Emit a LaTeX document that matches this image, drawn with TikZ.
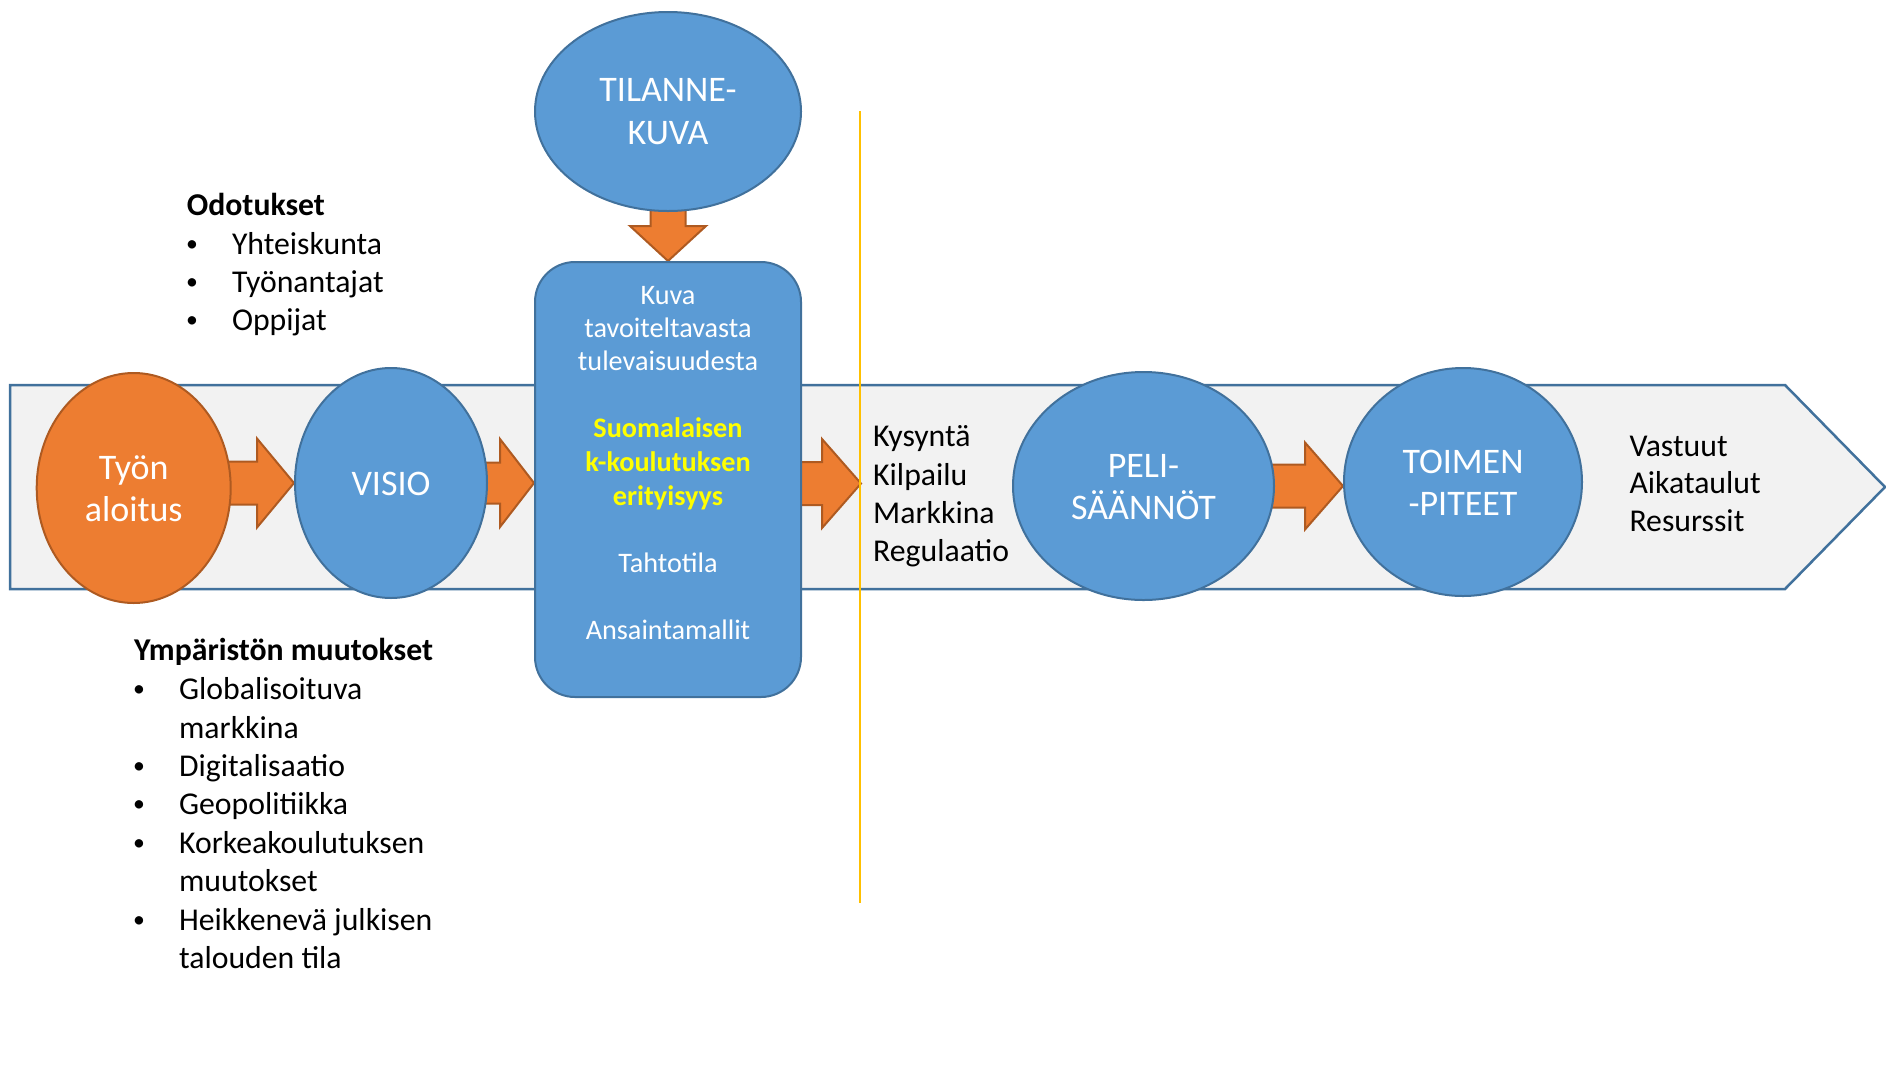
\documentclass[tikz,border=0pt]{standalone}
\usepackage{fontspec}
\setmainfont{Carlito}
\usetikzlibrary{shapes.geometric,calc}
\definecolor{bfill}{HTML}{5B9BD5}
\definecolor{bline}{HTML}{41719C}
\definecolor{ofill}{HTML}{ED7D31}
\definecolor{oline}{HTML}{AE5A21}
\definecolor{gfill}{HTML}{F2F2F2}
\definecolor{yel}{HTML}{FFFF00}
\definecolor{gold}{HTML}{FFC000}
\pgfdeclarelayer{bg}
\pgfsetlayers{bg,main}
\begin{document}
\begin{tikzpicture}[x=0.4pt,y=-0.4pt,
  ell/.style={ellipse, draw=bline, fill=bfill, line width=0.8pt, inner sep=0pt},
  oell/.style={ellipse, draw=oline, fill=ofill, line width=0.8pt, inner sep=0pt},
  rbox/.style={rectangle, rounded corners=16pt, draw=bline, fill=bfill, line width=0.8pt, inner sep=0pt},
  barrow/.style={draw=oline, fill=ofill, line width=0.8pt, line join=miter},
  bigarrow/.style={draw=bline, fill=gfill, line width=1pt},
  etxt/.style={font=\fontsize{14.4}{17}\selectfont, text=white, anchor=base, inner sep=0pt},
  rtxt/.style={font=\fontsize{11.3}{13.3}\selectfont, text=white, anchor=base, inner sep=0pt},
  ytxt/.style={font=\fontsize{11.3}{13.3}\selectfont\bfseries, text=yel, anchor=base, inner sep=0pt},
  btxt/.style={font=\fontsize{12.7}{15.3}\selectfont, anchor=base west, inner sep=0pt},
  htxt/.style={font=\fontsize{12.7}{15.3}\selectfont\bfseries, anchor=base west, inner sep=0pt},
  bul/.style={font=\fontsize{9.5}{12}\selectfont, anchor=base, inner sep=0pt}]
\useasboundingbox (0,0) rectangle (1886,1080);

% nodes
\node[oell, minimum width=77.6pt, minimum height=92pt] (tyon) at (133.7,488) {};
\node[ell, minimum width=76.8pt, minimum height=92pt] (visio) at (391,483) {};
\node[ell, minimum width=106.4pt, minimum height=79.6pt] (tilanne) at (668,111.5) {};
\node[rbox, minimum width=106.4pt, minimum height=174pt] (rect) at (668,479.5) {};
\node[ell, minimum width=104.4pt, minimum height=91.2pt] (peli) at (1143.5,486) {};
\node[ell, minimum width=95.2pt, minimum height=91.2pt] (toimen) at (1463,482) {};
\coordinate (ktip) at (861,483.5);

% background: big arrow and block arrows
\begin{pgfonlayer}{bg}
\draw[bigarrow] (10,385) -- (1785,385) -- (1885,487) -- (1785,589) -- (10,589) -- cycle;
\draw[barrow] let \p1=(tyon.east), \p2=(visio.west) in
  (\x1-3pt,\y2+8.6pt) -- (\x2-14.8pt,\y2+8.6pt) -- (\x2-14.8pt,\y2+17.8pt) -- (\x2,\y2)
  -- (\x2-14.8pt,\y2-17.8pt) -- (\x2-14.8pt,\y2-8.6pt) -- (\x1-3pt,\y2-8.6pt) -- cycle;
\draw[barrow] let \p1=(visio.east), \p2=(rect.west |- visio.east) in
  (\x1-3pt,\y2+8.2pt) -- (\x2-13.6pt,\y2+8.2pt) -- (\x2-13.6pt,\y2+17.6pt) -- (\x2,\y2)
  -- (\x2-13.6pt,\y2-17.6pt) -- (\x2-13.6pt,\y2-8.2pt) -- (\x1-3pt,\y2-8.2pt) -- cycle;
\draw[barrow] let \p1=(rect.east), \p2=(ktip) in
  (\x1-3pt,\y2+8.6pt) -- (\x2-15.6pt,\y2+8.6pt) -- (\x2-15.6pt,\y2+17.8pt) -- (\x2,\y2)
  -- (\x2-15.6pt,\y2-17.8pt) -- (\x2-15.6pt,\y2-8.6pt) -- (\x1-3pt,\y2-8.6pt) -- cycle;
\draw[barrow] let \p1=(peli.east), \p2=(toimen.west |- peli.east) in
  (\x1-3pt,\y2+8.6pt) -- (\x2-15.2pt,\y2+8.6pt) -- (\x2-15.2pt,\y2+17.4pt) -- (\x2,\y2)
  -- (\x2-15.2pt,\y2-17.4pt) -- (\x2-15.2pt,\y2-8.6pt) -- (\x1-3pt,\y2-8.6pt) -- cycle;
\draw[barrow] let \p1=(tilanne.south), \p2=(rect.north) in
  (\x2-7pt,\y1+3pt) -- (\x2-7pt,\y2+14pt) -- (\x2-15.2pt,\y2+14pt) -- (\x2,\y2)
  -- (\x2+15.2pt,\y2+14pt) -- (\x2+7pt,\y2+14pt) -- (\x2+7pt,\y1+3pt) -- cycle;
\end{pgfonlayer}

% yellow divider
\coordinate (ltop) at (860,111);
\coordinate (lbot) at (860,903);
\draw[gold, line width=0.7pt] (ltop) -- (lbot);

% ellipse labels
\node[etxt] (t1) at (133.7,479) {Työn};
\node[etxt] (t2) at (133.7,521.7) {aloitus};
\node[etxt] (v1) at (391,495) {VISIO};
\node[etxt] (k1) at (668,101.6) {TILANNE-};
\node[etxt] (k2) at (668,144) {KUVA};
\node[etxt] (p1) at (1143.5,477) {PELI-};
\node[etxt] (p2) at (1143.5,519) {SÄÄNNÖT};
\node[etxt] (m1) at (1463,473.5) {TOIMEN};
\node[etxt] (m2) at (1463,515.5) {-PITEET};

% rect labels
\node[rtxt] (r1) at (668,304) {Kuva};
\node[rtxt] (r2) at (668,337) {tavoiteltavasta};
\node[rtxt] (r3) at (668,370.7) {tulevaisuudesta};
\node[ytxt] (r4) at (668,437.7) {Suomalaisen};
\node[ytxt] (r5) at (668,471) {k-koulutuksen};
\node[ytxt] (r6) at (668,505) {erityisyys};
\node[rtxt] (r7) at (668,572) {Tahtotila};
\node[rtxt] (r8) at (668,639) {Ansaintamallit};

% Odotukset
\node[htxt] (o0) at (186.4,215.2) {Odotukset};
\node[bul] (ob1) at (192,251) {•};
\node[btxt] (o1) at (231.5,254) {Yhteiskunta};
\node[bul] (ob2) at (192,289) {•};
\node[btxt] (o2) at (231.5,292) {Työnantajat};
\node[bul] (ob3) at (192,327.6) {•};
\node[btxt] (o3) at (231.5,330.6) {Oppijat};

% Ympäristön muutokset
\node[htxt] (y0) at (133.5,660.5) {Ympäristön muutokset};
\node[bul] (yb1) at (139,696) {•};
\node[btxt] (y1) at (178.6,699) {Globalisoituva};
\node[btxt] (y2) at (178.6,738) {markkina};
\node[bul] (yb3) at (139,773) {•};
\node[btxt] (y3) at (178.6,776) {Digitalisaatio};
\node[bul] (yb4) at (139,811) {•};
\node[btxt] (y4) at (178.6,814) {Geopolitiikka};
\node[bul] (yb5) at (139,850) {•};
\node[btxt] (y5) at (178.6,853) {Korkeakoulutuksen};
\node[btxt] (y6) at (178.6,891) {muutokset};
\node[bul] (yb7) at (139,927) {•};
\node[btxt] (y7) at (178.6,930) {Heikkenevä julkisen};
\node[btxt] (y8) at (178.6,968) {talouden tila};

% Kysyntä list
\node[btxt] (q1) at (872.7,446.7) {Kysyntä};
\node[btxt] (q2) at (872.7,485) {Kilpailu};
\node[btxt] (q3) at (872.7,523) {Markkina};
\node[btxt] (q4) at (872.7,561) {Regulaatio};

% Vastuut list
\node[btxt] (w1) at (1629,456) {Vastuut};
\node[btxt] (w2) at (1629,493) {Aikataulut};
\node[btxt] (w3) at (1629,531.7) {Resurssit};
\end{tikzpicture}
\end{document}
